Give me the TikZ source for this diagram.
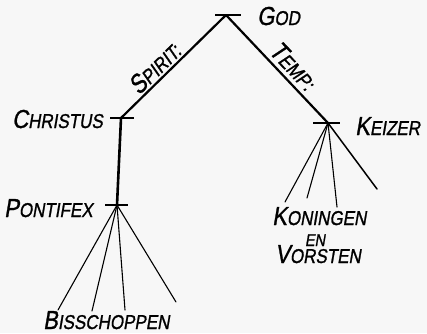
\documentclass[tikz,border=0pt]{standalone}
\usepackage{fontspec}
\usepackage{graphicx}
\newfontfamily\handfont{Liberation Sans}[FakeSlant=0.2, FakeBold=1.2]
\newcommand\capsword[2]{\scalebox{0.85}[1]{\handfont{\fontsize{26}{26}\selectfont #1}{\fontsize{20}{20}\selectfont #2}}}
\tikzset{
  lbl/.style={inner sep=0pt},
  trunk/.style={line width=2.2pt, line cap=round},
  bar/.style={line width=2pt},
  fan/.style={line width=1.1pt, line cap=round},
}
\begin{document}
\begin{tikzpicture}[x=1pt, y=-1pt]
  \fill[black!3] (0,0) rectangle (427,333);
  \useasboundingbox (0,0) rectangle (427,333);

  % branching points
  \coordinate (god) at (226,15);
  \coordinate (christus) at (121,118);
  \coordinate (keizer) at (328,123);
  \coordinate (pontifex) at (117,205);

  % free ends of the fans
  \coordinate (b1) at (58,310);
  \coordinate (b2) at (92,311);
  \coordinate (b3) at (125,310);
  \coordinate (b4) at (176,302);
  \coordinate (k1) at (285,202);
  \coordinate (k2) at (307,198);
  \coordinate (k3) at (337,207);
  \coordinate (k4) at (377,189);

  % cross bars
  \draw[bar] (god) +(-11,0) -- +(15,0);
  \draw[bar] (christus) +(-11,0) -- +(13,0);
  \draw[bar] (keizer) +(-15,0) -- +(12,0);
  \draw[bar] (pontifex) +(-12,0) -- +(11,0);

  % main branches
  \draw[trunk] (god) -- (christus)
    node[lbl, sloped, above=2pt, pos=0.6, anchor=south] {\capsword{S}{PIRIT:}};
  \draw[trunk] (god) -- (keizer)
    node[lbl, sloped, above=4pt, pos=0.56, anchor=south] {\capsword{T}{EMP:}};
  \draw[trunk, line width=2.6pt] (christus) -- (pontifex);

  % fans
  \foreach \e in {b1,b2,b3,b4} \draw[fan] (pontifex) -- (\e);
  \foreach \e in {k1,k2,k3} \draw[fan] (keizer) -- (\e);
  \draw[fan, line width=1.5pt] (keizer) -- (k4);

  % names
  \node[lbl, anchor=base west] (tgod) at (257,25) {\capsword{G}{OD}};
  \node[lbl, anchor=base west] (tchristus) at (12,128) {\capsword{C}{HRISTUS}};
  \node[lbl, anchor=base west] (tkeizer) at (355,135) {\capsword{K}{EIZER}};
  \node[lbl, anchor=base west] (tpontifex) at (4,217) {\capsword{P}{ONTIFEX}};
  \node[lbl, anchor=base west] (tbiss) at (43,329) {\capsword{B}{ISSCHOPPEN}};
  \node[lbl, anchor=base west] (tkon) at (272,225) {\capsword{K}{ONINGEN}};
  \node[lbl, anchor=base] (ten) at (315,246) {\scalebox{0.85}[1]{\handfont\fontsize{17}{17}\selectfont EN}};
  \node[lbl, anchor=base west] (tvor) at (275,263) {\capsword{V}{ORSTEN}};
\end{tikzpicture}
\end{document}
